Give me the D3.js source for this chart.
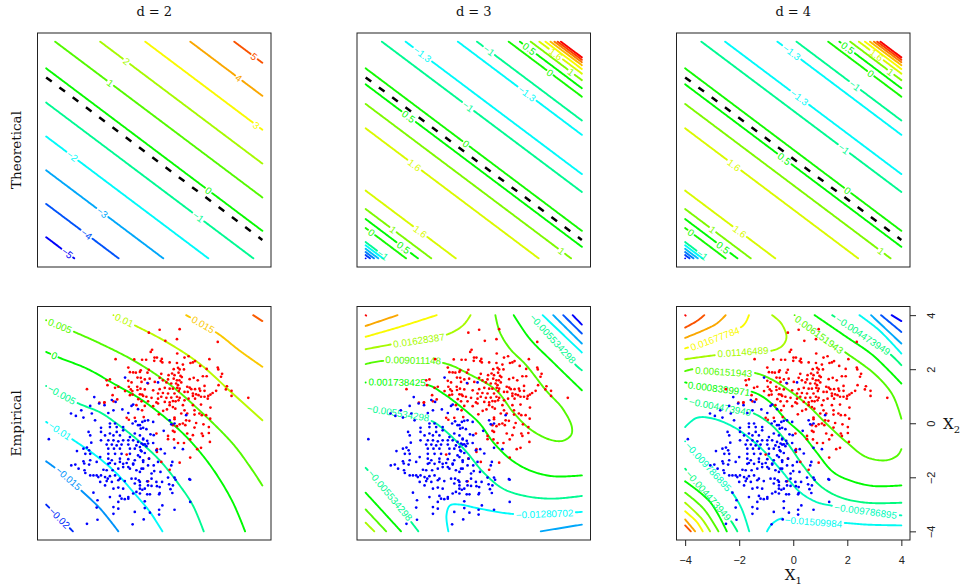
<!DOCTYPE html>
<html><head><meta charset="utf-8">
<script src="https://cdn.jsdelivr.net/npm/d3@7"></script>
<style>html,body{margin:0;background:#fff}svg{display:block}</style></head>
<body><svg id="c" width="962" height="588"></svg>
<script>
// ---------- data (all in X1 / X2 units) ----------
const columnTitles = ["d = 2", "d = 3", "d = 4"];
const rowTitles = ["Theoretical", "Empirical"];
const axisTicks = [-4, -2, 0, 2, 4];
const boundaryOffset = -0.32;

const redPoints = [[0.20,3.46],[-0.20,3.35],[0.84,3.11],[0.41,3.05],[-0.08,2.72],[-0.13,2.64],[0.85,2.58],[-1.43,2.37],[-0.74,2.36],[-0.45,2.35],[-0.30,2.35],[0.01,2.43],[0.10,2.43],[0.28,2.38],[0.24,2.30],[0.00,2.31],[0.30,2.25],[0.57,2.25],[0.84,2.23],[-0.96,2.06],[-0.50,1.96],[-0.20,1.98],[0.72,2.00],[0.88,2.05],[-0.90,1.89],[-0.78,1.88],[-0.68,1.87],[-0.53,1.90],[-0.25,1.87],[0.26,1.83],[0.53,1.78],[0.66,1.84],[0.75,1.78],[0.90,1.87],[-0.62,1.69],[-0.50,1.68],[-0.35,1.62],[-0.17,1.65],[0.20,1.68],[0.32,1.59],[0.51,1.62],[0.72,1.65],[0.84,1.59],[-1.64,1.62],[-1.76,1.59],[-0.96,1.57],[-0.84,1.51],[-0.47,1.53],[-0.23,1.47],[0.02,1.53],[0.45,1.51],[0.63,1.47],[0.81,1.47],[-1.73,1.41],[-0.94,1.35],[-0.63,1.35],[-0.51,1.28],[-0.35,1.25],[-0.04,1.22],[0.20,1.26],[0.39,1.31],[0.57,1.28],[0.69,1.28],[0.85,1.31],[-1.45,1.31],[-1.08,1.19],[-0.81,1.19],[-0.53,1.07],[-0.41,1.01],[0.14,1.10],[0.32,1.12],[0.51,1.10],[0.75,1.10],[0.91,1.19],[-0.29,0.98],[-0.10,0.94],[0.26,0.98],[0.45,0.94],[0.63,0.95],[0.84,0.98],[-0.90,1.04],[-0.59,0.89],[-0.47,0.81],[0.14,0.91],[0.08,0.77],[0.39,0.79],[0.57,0.77],[0.79,0.81],[-0.23,0.81],[-1.84,0.77],[-1.51,0.81],
[0.94,3.48],[2.35,3.01],[1.27,2.48],[1.12,2.43],[1.51,2.30],[2.04,2.37],[1.06,2.17],[1.43,2.25],[1.34,2.23],[1.70,2.12],[1.94,2.01],[2.35,2.06],[2.37,1.99],[2.51,1.83],[2.47,1.72],[0.94,1.99],[1.10,1.99],[0.97,1.75],[1.02,1.71],[0.93,1.59],[1.31,1.63],[1.46,1.68],[1.80,1.74],[1.94,1.74],[1.00,1.51],[1.61,1.59],[0.88,1.41],[2.38,1.41],[2.69,1.37],[1.22,1.35],[1.31,1.32],[1.37,1.26],[1.51,1.26],[1.67,1.28],[1.86,1.38],[2.65,1.25],[2.86,1.20],[0.94,1.28],[1.12,1.16],[1.24,1.16],[1.43,1.10],[1.55,1.07],[1.70,1.20],[1.86,1.20],[2.29,1.20],[2.16,1.12],[2.08,1.06],[2.00,1.01],[1.43,1.01],[1.64,1.04],[1.73,0.98],[1.86,0.98],[3.48,0.94],[2.86,1.01],[0.94,0.94],[1.12,0.85],[1.27,0.91],[1.51,0.91],[1.98,0.91],[0.90,0.85],
[0.14,0.73],[0.69,0.82],[1.06,0.67],[1.43,0.67],[1.73,0.69],[2.08,0.58],[-0.04,0.63],[0.57,0.67],[0.69,0.60],[0.78,0.54],[0.47,0.51],[0.33,0.46],[1.12,0.48],[0.17,0.33],[0.75,0.21],[1.00,0.36],[1.22,0.36],[1.49,0.32],[1.49,0.48],[1.67,0.36],[1.76,0.30],[1.92,0.30],[2.07,0.17],[0.75,0.15],[0.94,-0.04],[1.06,-0.01],[1.18,0.11],[1.30,0.09],[1.55,0.01],[1.82,-0.04],[2.02,-0.14],[0.69,-0.07],[0.84,-0.11],[1.49,-0.16],[1.15,-0.07],[0.08,-0.38],[0.51,-0.47],[0.69,-0.28],[0.75,-0.32],[1.22,-0.38],[1.43,-0.44],[1.76,-0.38],[2.02,-0.36],[0.51,-0.59],[0.73,-0.60],[1.33,-0.60],[2.06,-0.69],[1.80,-0.47],[1.10,-0.73],[0.88,-0.73],[1.59,-0.96],[1.73,-0.91],[0.10,-0.96],[0.10,-1.06],[0.26,-1.43],[0.94,-1.46],[1.33,-1.27],[0.57,-1.72],[-0.20,-1.31],
[-1.54,1.04],[-1.37,0.88],[-0.80,1.06],[-0.45,1.06],[-1.85,0.76],[-2.03,0.76],[-0.66,0.67],[-1.02,0.20],[-0.94,0.13],[-0.72,0.20],[-0.39,0.23],[-0.45,0.48],[-0.35,0.64],[-1.02,-1.16],[-2.49,1.26],[-1.33,1.35],[-0.87,1.25],[-0.62,1.23],[-0.23,-2.15]];

const bluePoints = [[-1.08,1.69],[-0.25,1.49],[0.14,1.51],[-1.57,0.86],[-1.43,0.79],[-0.78,0.69],
[-0.35,0.09],[-0.53,-0.07],[-0.23,0.11],[-0.41,-0.17],[-0.29,-0.22],[-0.04,0.05],[0.57,0.11],[0.63,-0.04],[0.35,-0.28],[0.75,-0.01],[-0.14,-0.41],[-0.02,-0.44],[-0.41,-0.60],[-0.26,-0.65],[-0.35,-0.78],[-0.47,-0.75],[-0.23,-0.75],[-0.53,-0.88],[-0.29,-0.85],[-0.04,-0.73],[0.08,-1.00],[0.24,-0.96],[0.39,-1.12],[0.75,-0.91],[1.06,-0.96],[-0.47,-1.04],[-0.35,-1.10],[-0.19,-1.31],[-0.53,-1.25],[-0.41,-1.43],[-0.23,-1.56],[-0.02,-1.56],[0.14,-1.43],[0.67,-1.43],[0.63,-1.56],[-0.47,-1.68],[-0.53,-1.80],[0.00,-1.77],[0.23,-1.80],[0.51,-2.01],[0.75,-2.01],[1.30,-2.07],[-0.10,-2.05],[1.18,0.30],
[-2.22,0.97],[-2.04,0.73],[-2.70,0.48],[-2.37,0.64],[-3.08,0.36],[-2.90,0.27],[-2.62,0.21],[-2.19,0.11],[-1.84,0.67],[-2.31,0.36],[-0.84,0.64],[-0.60,0.52],[-1.70,0.38],[-1.51,0.48],[-1.18,0.51],[-0.96,0.38],[-1.64,-0.01],[-1.45,-0.01],[-1.97,-0.17],[-1.97,-0.32],[-2.43,-0.32],[-2.37,-0.45],[-1.64,-0.14],[-1.39,-0.14],[-1.15,-0.14],[-0.80,-0.01],[-0.69,0.07],[-0.60,-0.07],[-0.44,0.05],[-0.50,-0.20],[-1.39,-0.32],[-1.15,-0.26],[-0.72,-0.38],[-1.64,-0.38],[-1.82,-0.45],[-1.51,-0.45],[-1.27,-0.45],[-0.90,-0.51],[-0.53,-0.45],[-0.41,-0.57],[-2.86,-1.03],[-2.62,-0.94],[-2.49,-0.90],[-2.41,-1.00],[-2.33,-0.72],[-1.70,-0.63],[-1.51,-0.63],[-1.33,-0.67],[-1.15,-0.63],[-0.96,-0.63],[-0.78,-0.63],[-0.60,-0.69],[-1.97,-0.63],[-1.76,-0.79],[-1.57,-0.79],[-1.39,-0.82],[-1.21,-0.79],[-0.96,-0.79],[-0.66,-0.82],[-0.41,-0.79],[-1.70,-0.94],[-1.49,-0.94],[-1.27,-0.94],[-0.90,-0.94],[-0.72,-0.94],[-0.50,-1.00],[-2.37,-1.13],[-2.55,-1.13],[-1.70,-1.13],[-1.45,-1.13],[-1.21,-1.13],[-0.90,-1.13],[-0.60,-1.19],[-2.37,-1.37],[-2.62,-1.41],[-2.00,-1.25],[-1.70,-1.31],[-1.57,-1.37],[-1.27,-1.31],[-0.96,-1.33],[-0.72,-1.37],[-0.41,-1.37],[-1.70,-1.50],[-1.45,-1.50],[-1.15,-1.50],[-0.78,-1.53],
[-3.07,-1.56],[-2.92,-1.53],[-2.80,-1.68],[-2.59,-1.49],[-2.41,-1.53],[-2.13,-1.43],[-2.58,-1.74],[-2.55,-1.84],[-2.37,-1.93],[-2.25,-1.93],[-2.13,-1.93],[-2.07,-1.99],[-1.97,-1.93],[-1.64,-1.47],[-1.88,-1.72],[-1.76,-1.74],[-1.54,-1.74],[-1.33,-1.68],[-1.15,-1.62],[-0.96,-1.62],[-1.82,-1.99],[-1.72,-2.05],[-1.64,-1.96],[-1.45,-1.93],[-1.27,-2.05],[-0.84,-2.05],[-0.69,-2.05],[-0.57,-2.11],[-2.00,-2.17],[-1.76,-2.14],[-1.57,-2.17],[-1.33,-2.11],[-1.09,-2.14],[-0.72,-2.23],[-1.82,-2.30],[-2.25,-2.57],[-1.51,-2.42],[-1.33,-2.38],[-1.15,-2.42],[-0.78,-2.60],[-0.66,-2.54],[-0.53,-2.42],[-0.53,-2.60],[-2.10,-2.85],[-1.64,-2.73],[-1.27,-2.69],[-1.21,-2.79],[-1.09,-2.81],[-0.96,-2.79],[-1.33,-2.91],[-2.13,-3.12],[-1.51,-3.10],[-1.33,-3.16],[-0.72,-3.28],[-1.51,-3.35],[-2.49,-3.72],[-2.10,-3.57],[-0.80,-3.74],[-0.96,-2.73],[-0.90,-1.68],[-0.66,-1.74],[-0.41,-1.68],[-0.78,-1.49],[-1.27,-1.43],[-1.02,-1.47],
[-0.10,-1.86],[0.79,-2.09],[1.33,-2.09],[-0.53,-2.17],[-0.26,-2.15],[0.08,-2.17],[0.29,-2.17],[0.55,-2.26],[0.69,-2.30],[0.10,-2.33],[0.20,-2.36],[-0.53,-2.30],[-0.23,-2.30],[-0.10,-2.32],[-0.35,-2.42],[-0.44,-2.46],[0.60,-2.44],[-0.26,-2.63],[-0.16,-2.63],[0.20,-2.58],[0.18,-2.63],[0.67,-2.58],[1.33,-2.91],[-0.35,-2.89],[0.30,-3.04],[-0.35,-3.14],[-0.16,-3.31],[0.18,-3.20],[0.75,-3.20],[0.18,-3.38],[-0.39,-3.56],[-3.90,-0.59]];

// theoretical contours: [level, X2 + 0.75*X1 of the straight line, X1 of the label or null]
const theory2 = [[-5,-6.22,-3.23],[-4,-4.99,-2.49],[-3,-3.75,-1.92],[-2,-2.5,-3.02],[-1,-1.25,1.64],[0,0.015,2.0],[1,1.25,-1.61],[2,2.5,-1.05],[3,3.75,3.76],[4,5.0,3.11],[5,6.22,3.7]];
const theory2Levels = [-5,-4,-3,-2,-1,0,1,2,3,4,5];
const theory2Hues = [240,220,200,180,155,118,100,80,60,40,20];

const theory3 = [[-2.5,-7.0,null],[-2.2,-6.88,null],[-1.9,-6.77,null],[-1.6,-6.65,null],[-1.3,-6.52,null],[-1,-6.40,-3.36],[0,-5.88,-3.8],[0.5,-5.55,-2.58],[1,-5.18,-3.0],[1.6,-4.5,-1.99],[1.6,-2.2,-2.21],[1,-1.3,3.23],[0.5,-0.575,-2.42],[0,0.015,-0.27],[-1,1.45,-0.23],[-1.3,2.11,-1.9],[-1.3,3.56,1.98],[-1,4.09,0.55],[0,4.97,2.82],[0.5,5.28,2.04],[1,5.58,3.6],[1.6,5.82,3.04],[2.2,5.99,null],[2.8,6.13,null],[3.4,6.24,null],[4,6.33,null],[4.6,6.42,null]];
const theory4 = [[-2.5,-7.0,null],[-2.2,-6.88,null],[-1.9,-6.77,null],[-1.6,-6.65,null],[-1.3,-6.52,null],[-1,-6.40,-3.36],[0,-5.88,-3.8],[0.5,-5.55,-2.58],[1,-5.18,-3.0],[1.6,-4.5,-1.99],[1.6,-2.2,-2.21],[1,-1.3,3.25],[0.5,-0.575,-0.34],[0,0.015,2.03],[-1,1.45,1.87],[-1.3,2.11,0.25],[-1.3,3.56,-0.06],[-1,4.09,2.27],[0,4.97,2.85],[0.5,5.28,2.03],[1,5.58,3.62],[1.6,5.82,3.07],[2.2,5.99,null],[2.8,6.13,null],[3.4,6.24,null],[4,6.33,null],[4.6,6.42,null]];
const theory3Levels = [-2.5,-2.2,-1.9,-1.6,-1.3,-1,0,0.5,1,1.6,2.2,2.8,3.4,4,4.6];
const theory3Hues = [240,225,210,195,180,155,115,120,90,68,60,45,30,15,0];

const emp2Levels = [-0.02,-0.015,-0.01,-0.005,0,0.005,0.01,0.015,0.02];
const emp2Hues = [230,205,180,155,120,100,75,48,22];
const emp2 = [
 [-0.02,-3.5,[[-4,-3.01],[-3.01,-4]]],
 [-0.015,-3.17,[[-4,-1.41],[-3.23,-1.99],[-2.68,-2.51],[-2,-3.16],[-1.33,-4]]],
 [-0.01,-3.47,[[-4,0.05],[-3.04,-0.59],[-2.13,-1.22],[-1.39,-1.86],[-0.78,-2.54],[-0.16,-3.28],[0.30,-4]]],
 [-0.005,-3.41,[[-4,1.38],[-2.84,0.75],[-2,0.40],[-1.39,-0.01],[-0.53,-0.69],[0.2,-1.37],[0.94,-2.3],[1.43,-3.04],[1.83,-4]]],
 [0,-3.72,[[-4,2.64],[-3.5,2.42],[-2.49,2.02],[-1.51,1.47],[-0.53,0.91],[0.45,0.17],[1.31,-0.63],[2.16,-1.68],[2.9,-2.91],[3.36,-4]]],
 [0.005,-3.47,[[-4,3.81],[-2.96,3.38],[-2,2.95],[-0.78,2.33],[0.45,1.53],[1.67,0.48],[2.9,-0.75],[3.51,-1.56],[4,-2.3]]],
 [0.01,-1.12,[[-1.51,4],[-0.68,3.6],[0.45,3.01],[1.67,2.21],[2.9,1.1],[4,0.11]]],
 [0.015,1.82,[[1.18,4],[2.35,3.32],[3.14,2.7],[4,2.09]]],
 [0.02,null,[[3.66,4],[4,3.78]]]];

const emp3Levels = [-0.03462,-0.02735,-0.02008,-0.01280702,-0.005534298,0.001738425,0.009011148,0.01628387,0.0235,0.0308,0.038];
const emp3Hues = [240,220,200,180,155,120,100,80,60,40,0];
const emp3 = [
 [0.038,null,[[-4,4],[-3.98,3.98]]],
 [0.0308,null,[[-4,3.6],[-2.82,4]]],
 [0.0235,null,[[-4,3.2],[-2.72,3.57],[-1.37,4]]],
 [0.01628387,-2.02,[[-4,2.74],[-3.09,2.91],[-1,3.28],[-0.39,3.63],[-0.12,4]]],
 [0.009011148,-2.26,[[-4,2.19],[-3.34,2.31],[-1.13,2.23],[-0.1,1.78],[0.83,1.22],[1.45,0.42],[2.06,-0.2],[2.8,-0.6],[3.29,-0.65],[3.6,-0.44],[3.63,-0.14],[3.29,0.54],[2.67,1.22],[1.94,2.15],[1.33,2.77],[0.96,3.38],[0.8,4]]],
 [0.001738425,-2.85,[[-4,1.51],[-1.74,1.43],[-1.13,1.1],[-0.39,0.54],[0.22,-0.01],[0.71,-0.69],[1.33,-1.31],[2.06,-1.74],[2.92,-1.96],[4,-1.93]]],
 [0.001738425,null,[[1.48,4],[2.06,3.14],[2.92,2.27],[4,1.22]]],
 [-0.005534298,-2.79,[[-4,0.54],[-1.62,0.11],[-1.01,-0.32],[-0.27,-1.06],[0.34,-1.8],[1.08,-2.42],[1.94,-2.7],[2.92,-2.79],[4,-2.69]]],
 [-0.005534298,2.92,[[2.09,4],[2.92,3.13],[3.78,2.15],[4,1.96]]],
 [-0.005534298,-3.09,[[-4,-1.65],[-3.09,-2.67],[-2.05,-4]]],
 [-0.01280702,2.64,[[-0.94,-4],[-1.01,-3.41],[-0.88,-3.04],[-0.52,-3.01],[0.22,-3.16],[1.51,-3.36],[4,-3.28]]],
 [-0.01280702,null,[[2.55,4],[4,2.62]]],
 [-0.02008,null,[[2.48,-4],[4,-3.75]]],
 [-0.02008,null,[[2.94,4],[4,2.95]]],
 [-0.02735,null,[[3.31,4],[4,3.32]]],
 [-0.03462,null,[[3.66,4],[4,3.65]]],
 [0.001738425,null,[[-4,-2.57],[-2.69,-4]]],
 [0.009011148,null,[[-4,-3.19],[-3.24,-4]]],
 [0.01628387,null,[[-4,-3.68],[-3.68,-4]]]];

const emp4Levels = [-0.031,-0.0257,-0.0204,-0.01509984,-0.009786895,-0.004473949,0.0008389971,0.006151943,0.01146489,0.01677784,0.0221,0.0274,0.0327];
const emp4Hues = [240,220,200,178,165,150,120,100,80,60,40,20,0];
const emp4 = [
 [0.0327,null,[[-4,4],[-3.98,3.98]]],
 [0.0274,null,[[-4,3.54],[-3.57,3.78],[-3.29,4]]],
 [0.0221,null,[[-4,3.16],[-3.32,3.44],[-2.83,3.69],[-2.5,4]]],
 [0.01677784,-2.89,[[-4,2.77],[-2.89,3.13],[-1.91,3.57],[-1.75,3.75],[-1.64,4]]],
 [0.01146489,-1.85,[[-4,2.37],[-2.89,2.52],[-1.85,2.64],[-0.74,2.7],[-0.38,2.89],[-0.25,3.2],[-0.44,3.69],[-0.78,4]]],
 [0.006151943,-2.59,[[-4,1.93],[-3.69,2],[-2.59,1.9],[-1.42,1.86],[-0.74,1.59],[0,1.1],[0.61,0.6],[1.22,-0.01],[1.96,-0.69],[2.7,-1.25],[3.43,-1.37],[3.86,-1.19],[4,-0.96]]],
 [0.006151943,0.98,[[0.05,4],[0.98,3.26],[1.9,2.64],[3.06,1.78],[3.68,1.04],[4,0.17]]],
 [0.0008389971,-2.77,[[-4,1.51],[-2.77,1.28],[-1.51,1.16],[-0.87,0.79],[-0.25,0.11],[0.36,-0.44],[0.85,-1.06],[1.47,-1.8],[2.08,-2.11],[2.94,-2.32],[4,-2.3]]],
 [0.0008389971,null,[[0.79,4],[1.96,3.2],[2.94,2.52],[4,1.47]]],
 [-0.004473949,-2.71,[[-4,0.91],[-2.71,0.6],[-1.6,0.42],[-0.87,-0.01],[-0.25,-0.69],[0.36,-1.56],[0.98,-2.3],[1.71,-2.73],[2.7,-2.94],[4,-2.94]]],
 [-0.004473949,2.57,[[1.44,4],[2.57,3.26],[3.56,2.58],[4,2.15]]],
 [-0.004473949,-3.14,[[-4,-1.68],[-3.14,-2.67],[-2.28,-3.65],[-2.07,-4]]],
 [-0.009786895,-3.14,[[-4,-0.67],[-3.08,-1.68],[-2.28,-2.54],[-1.91,-3.16],[-1.63,-4]]],
 [-0.009786895,2.7,[[-4,-0.14],[-3.57,0.2],[-2.96,0.17],[-2.1,-0.2],[-1.24,-0.88],[-0.5,-1.68],[0.24,-2.54],[0.85,-2.91],[1.47,-3.06],[2.7,-3.26],[4,-3.41]]],
 [-0.01509984,0.73,[[-0.97,-4],[-0.81,-3.75],[-0.44,-3.53],[0.73,-3.65],[1.77,-3.68],[2.7,-3.75],[4,-3.78]]],
 [-0.01509984,null,[[2.45,4],[3.18,3.44],[4,2.58]]],
 [-0.0204,null,[[2.88,4],[4,2.95]]],
 [-0.0257,null,[[3.25,4],[4,3.38]]],
 [-0.031,null,[[3.64,4],[4,3.78]]],
 [0.0008389971,null,[[-4,-2.15],[-3.08,-2.91],[-2.46,-4]]],
 [0.006151943,null,[[-4,-2.57],[-3.32,-3.16],[-2.77,-4]]],
 [0.01146489,null,[[-4,-2.94],[-3.39,-3.53],[-3.08,-4]]],
 [0.01677784,null,[[-4,-3.26],[-3.57,-3.65],[-3.35,-4]]],
 [0.0221,null,[[-4,-3.56],[-3.63,-4]]],
 [0.0274,null,[[-4,-3.78],[-3.79,-4]]]];

// ---------- layout ----------
const svg = d3.select("#c");
const colEdges = [[37.5,271],[357,590.5],[676.5,910]];
const rowEdges = [[33,267],[306.5,540]];
const lim = 4.32;
const serif = "'DejaVu Serif', serif", sans = "'Liberation Sans', Arial, sans-serif";

const straight = u => {
  const a = Math.max(-4,(u-4)/0.75), b = Math.min(4,(u+4)/0.75);
  return [[a,u-0.75*a],[b,u-0.75*b]];
};
const fmt = v => String(v).replace("-", "\u2212");
const colourOf = (levels,hues) => {
  const s = d3.scaleLinear().domain(levels).range(hues);
  return v => d3.hsl(s(v),1,0.49).formatHex();
};

function drawPanel(col,row,contours,colour,opt){
  const [x0,x1]=colEdges[col],[y0,y1]=rowEdges[row];
  const sx=d3.scaleLinear().domain([-lim,lim]).range([x0,x1]);
  const sy=d3.scaleLinear().domain([-lim,lim]).range([y1,y0]);
  const g=svg.append("g");
  const smooth=d3.line().x(d=>sx(d[0])).y(d=>sy(d[1])).curve(d3.curveCatmullRom.alpha(0.5));
  const plain=d3.line();
  const temp=g.append("path").attr("fill","none");
  contours.forEach(([level,at,pts])=>{
    temp.attr("d",smooth(pts));
    const node=temp.node(), L=node.getTotalLength();
    const n=Math.max(1,Math.ceil(L/1.5));
    const samples=d3.range(n+1).map(i=>{const p=node.getPointAtLength(L*i/n);return [p.x,p.y,L*i/n];});
    const col=colour(level);
    let pieces=[samples];
    if(at!==null){
      const t=sx(at);
      const i=d3.least(d3.range(samples.length),k=>Math.abs(samples[k][0]-t));
      const a=samples[Math.max(0,i-4)], b=samples[Math.min(samples.length-1,i+4)];
      let ang=Math.atan2(b[1]-a[1],b[0]-a[0])*180/Math.PI;
      if(ang>90)ang-=180; if(ang<-90)ang+=180;
      const txt=svg.append("text").attr("font-family",sans).attr("font-size",9.8)
        .attr("text-anchor","middle").attr("dy","0.36em").attr("fill",col)
        .attr("transform",`translate(${samples[i][0]},${samples[i][1]}) rotate(${ang})`)
        .text(fmt(level));
      const half=txt.node().getComputedTextLength()/2+1.5, s0=samples[i][2];
      pieces=[samples.filter(p=>p[2]<s0-half),samples.filter(p=>p[2]>s0+half)];
    }
    pieces.filter(p=>p.length).forEach(p=>{
      g.append("path").attr("d",plain(p.map(q=>[q[0],q[1]]))).attr("fill","none")
       .attr("stroke",col).attr("stroke-width",1.9).attr("stroke-linecap","round");
    });
  });
  temp.remove();
  if(opt.dashed){
    g.append("path").attr("d",d3.line().x(d=>sx(d[0])).y(d=>sy(d[1]))(straight(boundaryOffset)))
     .attr("fill","none").attr("stroke","#000").attr("stroke-width",2.5).attr("stroke-dasharray","7 9.6");
  }
  if(opt.points){
    const mk=(data,c)=>svg.append("g").selectAll("circle").data(data).join("circle")
      .attr("cx",d=>sx(d[0])).attr("cy",d=>sy(d[1])).attr("r",1.35).attr("fill",c);
    mk(redPoints,"#ff0000"); mk(bluePoints,"#0000ff");
  }
  svg.append("rect").attr("x",x0).attr("y",y0).attr("width",x1-x0).attr("height",y1-y0)
     .attr("fill","none").attr("stroke","#222").attr("stroke-width",1);
  if(opt.axes){
    const ax=svg.append("g").attr("transform",`translate(0,${y1})`)
      .call(d3.axisBottom(sx).tickValues(axisTicks).tickSize(6).tickPadding(10));
    const ay=svg.append("g").attr("transform",`translate(${x1},0)`)
      .call(d3.axisRight(sy).tickValues(axisTicks).tickSize(6));
    [ax,ay].forEach(a=>{a.select(".domain").remove();
      a.attr("font-family",sans).attr("font-size",11);
      a.selectAll("line").attr("stroke","#222");
      a.selectAll("text").attr("fill","#222");});
    ay.selectAll("text").attr("transform","rotate(-90)").attr("x",0).attr("y",25).attr("dy",0).attr("text-anchor","middle");
    const sub=(x,y,s)=>{const t=svg.append("text").attr("x",x).attr("y",y).attr("font-family",serif).attr("font-size",15).attr("fill","#111");
      t.append("tspan").text("X");t.append("tspan").attr("dy",3.5).attr("font-size",10).text(s);return t;};
    sub(sx(0)-8.5,580,"1");
    sub(943,429,"2");
  }
}
const asStraight = rows => rows.map(([lv,u,at])=>[lv,at,straight(u)]);

drawPanel(0,0,asStraight(theory2),colourOf(theory2Levels,theory2Hues),{dashed:true});
drawPanel(1,0,asStraight(theory3),colourOf(theory3Levels,theory3Hues),{dashed:true});
drawPanel(2,0,asStraight(theory4),colourOf(theory3Levels,theory3Hues),{dashed:true});
drawPanel(0,1,emp2,colourOf(emp2Levels,emp2Hues),{points:true});
drawPanel(1,1,emp3,colourOf(emp3Levels,emp3Hues),{points:true});
drawPanel(2,1,emp4,colourOf(emp4Levels,emp4Hues),{points:true,axes:true});

columnTitles.forEach((t,i)=>svg.append("text").attr("x",(colEdges[i][0]+colEdges[i][1])/2).attr("y",16)
  .attr("text-anchor","middle").attr("font-family",serif).attr("font-size",13).attr("fill","#111").text(t));
rowTitles.forEach((t,i)=>svg.append("text")
  .attr("transform",`translate(21,${(rowEdges[i][0]+rowEdges[i][1])/2}) rotate(-90)`)
  .attr("text-anchor","middle").attr("font-family",serif).attr("font-size",13.5).attr("fill","#111").text(t));
</script></body></html>
